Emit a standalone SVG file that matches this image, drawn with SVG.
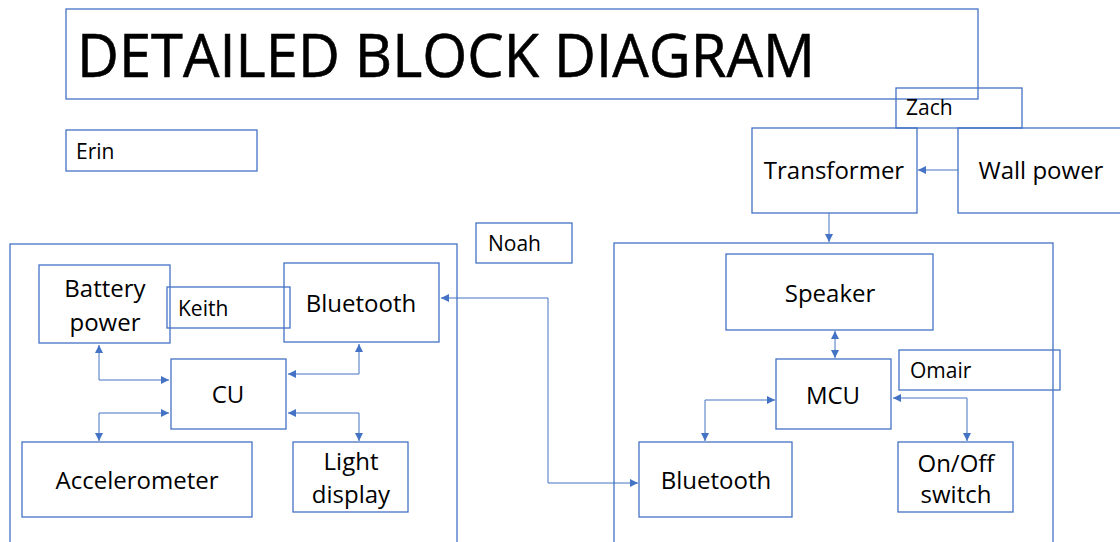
<svg xmlns="http://www.w3.org/2000/svg" width="1120" height="542" viewBox="0 0 1120 542">
  <style>
    .box { fill: none; stroke: #4472C4; stroke-width: 1.3; }
    .lbl { font-family: "Open Sans", "Liberation Sans", sans-serif; font-size: 24px; fill: #000; text-anchor: middle; }
    .name { font-family: "Open Sans", "Liberation Sans", sans-serif; font-size: 21px; fill: #000; }
    .title { font-family: "Open Sans", "Liberation Sans", sans-serif; font-size: 61px; fill: #000; stroke: #000; stroke-width: 0.6; }
    .wire { fill: none; stroke: #4472C4; stroke-width: 1; }
  </style>
  <defs>
    <marker id="ah" viewBox="0 0 10 10" refX="10" refY="5" markerWidth="8" markerHeight="8" markerUnits="userSpaceOnUse" orient="auto-start-reverse">
      <path d="M0,0 L10,5 L0,10 z" fill="#4472C4"/>
    </marker>
  </defs>

  <rect width="1120" height="542" fill="#ffffff"/>

  <!-- heading -->
  <g id="title">
    <rect class="box" x="66" y="9" width="912" height="90"/>
    <text class="title" x="77" y="77" textLength="738" lengthAdjust="spacingAndGlyphs">DETAILED BLOCK DIAGRAM</text>
  </g>

  <g id="erin">
    <rect class="box" x="66" y="130" width="191" height="41"/>
    <text class="name" x="76" y="159">Erin</text>
  </g>

  <g id="noah">
    <rect class="box" x="476" y="223" width="96" height="40"/>
    <text class="name" x="488" y="251">Noah</text>
  </g>

  <!-- power supply -->
  <g id="zach">
    <rect class="box" x="896" y="88" width="126" height="40"/>
    <text class="name" x="906" y="115">Zach</text>
  </g>
  <g id="transformer">
    <rect class="box" x="752" y="128" width="165" height="85"/>
    <text class="lbl" x="834" y="179" font-size="22">Transformer</text>
  </g>
  <g id="wall-power">
    <rect class="box" x="958" y="128" width="170" height="85"/>
    <text class="lbl" x="1041" y="179" font-size="22">Wall power</text>
  </g>

  <!-- wearable unit -->
  <g id="wearable">
    <rect class="box" x="10" y="244" width="447" height="300"/>
  </g>
  <g id="battery">
    <rect class="box" x="39" y="265" width="131" height="78"/>
    <text class="lbl" x="105" y="297">Battery</text>
    <text class="lbl" x="105" y="331">power</text>
  </g>
  <g id="keith">
    <rect class="box" x="167" y="287" width="123" height="41"/>
    <text class="name" x="178" y="316">Keith</text>
  </g>
  <g id="bt-left">
    <rect class="box" x="284" y="263" width="155" height="79"/>
    <text class="lbl" x="361" y="312">Bluetooth</text>
  </g>
  <g id="cu">
    <rect class="box" x="171" y="359" width="115" height="70"/>
    <text class="lbl" x="228" y="403">CU</text>
  </g>
  <g id="accelerometer">
    <rect class="box" x="22" y="442" width="230" height="75"/>
    <text class="lbl" x="137" y="489">Accelerometer</text>
  </g>
  <g id="light-display">
    <rect class="box" x="293" y="442" width="115" height="70"/>
    <text class="lbl" x="351" y="470">Light</text>
    <text class="lbl" x="351" y="503">display</text>
  </g>

  <!-- speaker unit -->
  <g id="base">
    <rect class="box" x="614" y="243" width="439" height="301"/>
  </g>
  <g id="speaker">
    <rect class="box" x="726" y="254" width="207" height="76"/>
    <text class="lbl" x="830" y="302">Speaker</text>
  </g>
  <g id="mcu">
    <rect class="box" x="776" y="359" width="115" height="70"/>
    <text class="lbl" x="833" y="404">MCU</text>
  </g>
  <g id="omair">
    <rect class="box" x="899" y="350" width="161" height="40"/>
    <text class="name" x="910" y="378">Omair</text>
  </g>
  <g id="bt-right">
    <rect class="box" x="639" y="442" width="153" height="75"/>
    <text class="lbl" x="716" y="489">Bluetooth</text>
  </g>
  <g id="onoff">
    <rect class="box" x="898" y="442" width="115" height="70"/>
    <text class="lbl" x="956" y="472">On/Off</text>
    <text class="lbl" x="956" y="503">switch</text>
  </g>

  <!-- connectors -->
  <g id="connectors">
    <path class="wire" d="M958,170 L918,170" marker-end="url(#ah)"/>
    <path class="wire" d="M829,213 L829,242" marker-end="url(#ah)"/>

    <path class="wire" d="M99,345 L99,380 L169,380" marker-start="url(#ah)" marker-end="url(#ah)"/>
    <path class="wire" d="M99,441 L99,413 L169,413" marker-start="url(#ah)" marker-end="url(#ah)"/>
    <path class="wire" d="M359,344 L359,374 L288,374" marker-start="url(#ah)" marker-end="url(#ah)"/>
    <path class="wire" d="M359,441 L359,413 L288,413" marker-start="url(#ah)" marker-end="url(#ah)"/>

    <path class="wire" d="M441,298 L548,298 L548,483 L638,483" marker-start="url(#ah)" marker-end="url(#ah)"/>

    <path class="wire" d="M835,331 L835,358" marker-start="url(#ah)" marker-end="url(#ah)"/>
    <path class="wire" d="M705,441 L705,400 L775,400" marker-start="url(#ah)" marker-end="url(#ah)"/>
    <path class="wire" d="M893,398 L967,398 L967,441" marker-start="url(#ah)" marker-end="url(#ah)"/>
  </g>
</svg>
